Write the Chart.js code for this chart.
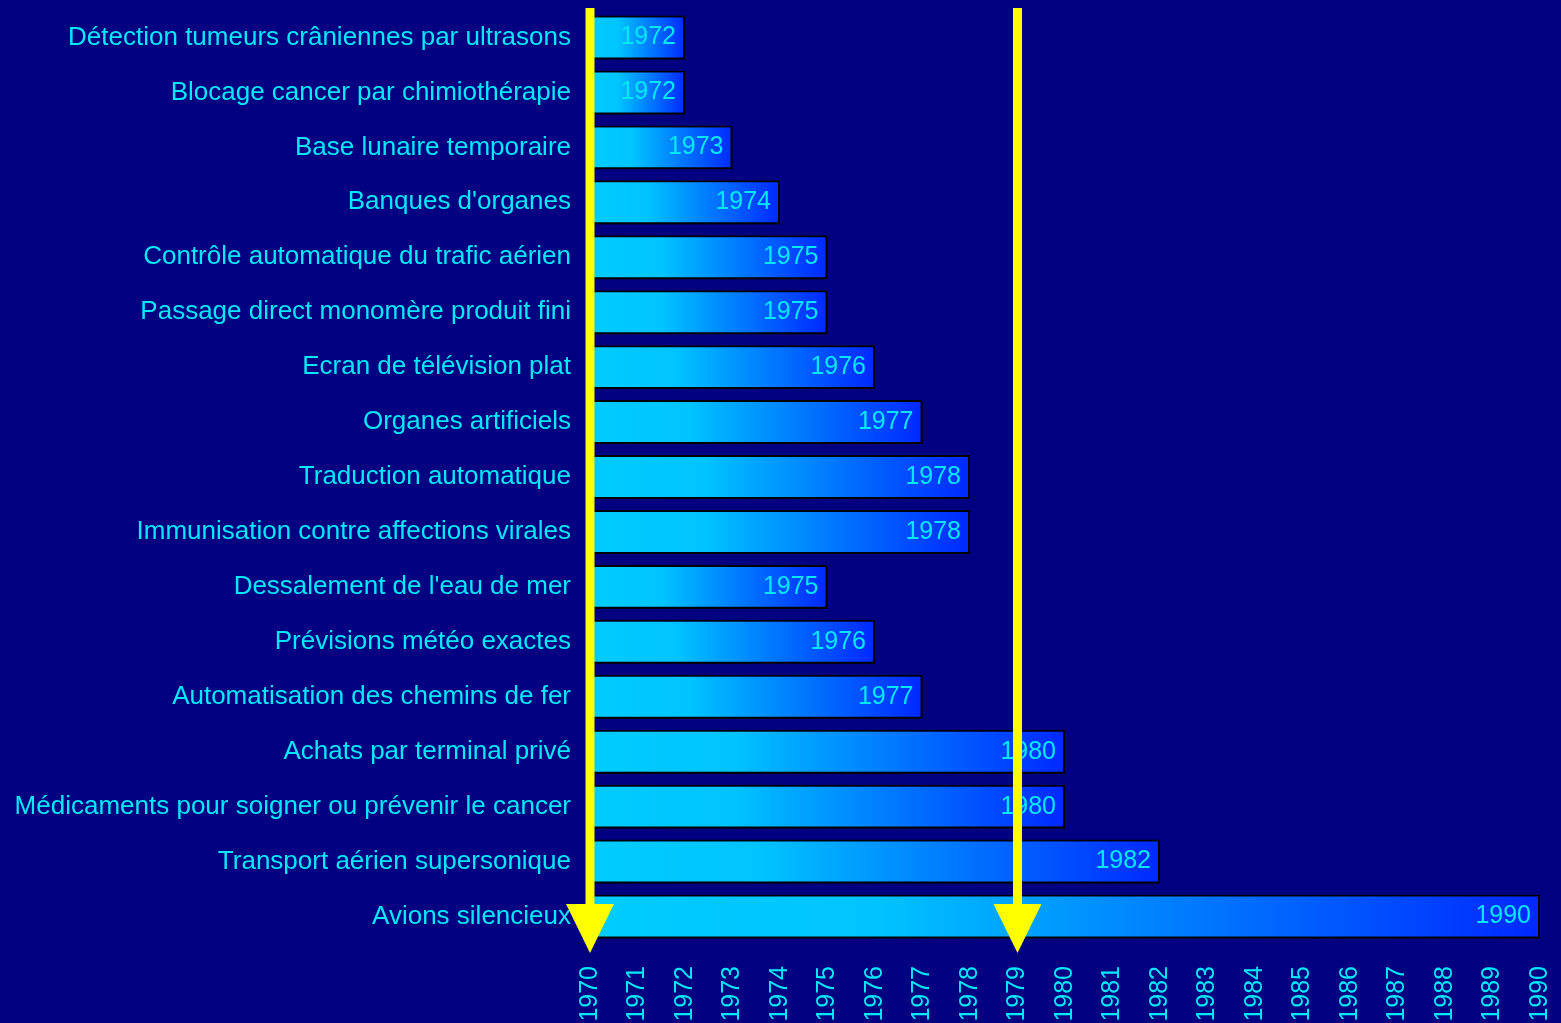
<!DOCTYPE html>
<html>
<head>
<meta charset="utf-8">
<script src="https://cdn.jsdelivr.net/npm/chart.js@4"></script>
<style>
  html, body { margin: 0; padding: 0; background: #000080; }
  #wrap { width: 1561px; height: 1023px; }
</style>
</head>
<body>
<div id="wrap"><canvas id="graf"></canvas></div>
<script>
// Donnees
const categories = [
  'Détection tumeurs crâniennes par ultrasons',
  'Blocage cancer par chimiothérapie',
  'Base lunaire temporaire',
  "Banques d'organes",
  'Contrôle automatique du trafic aérien',
  'Passage direct monomère produit fini',
  'Ecran de télévision plat',
  'Organes artificiels',
  'Traduction automatique',
  'Immunisation contre affections virales',
  "Dessalement de l'eau de mer",
  'Prévisions météo exactes',
  'Automatisation des chemins de fer',
  'Achats par terminal privé',
  'Médicaments pour soigner ou prévenir le cancer',
  'Transport aérien supersonique',
  'Avions silencieux'
];
const annees = [1972, 1972, 1973, 1974, 1975, 1975, 1976, 1977, 1978, 1978, 1975, 1976, 1977, 1980, 1980, 1982, 1990];
const anneeDebut = 1970;
const anneeFin = 1990;
const fleches = [1970, 1979];

const cyan = '#00e8fa';
const police = 'Liberation Sans, Arial, sans-serif';

// degrade par barre
function degrade(ctx) {
  const chart = ctx.chart;
  const x = chart.scales.x;
  if (!chart.chartArea || !x) return '#00c8ff';
  const x0 = x.getPixelForValue(anneeDebut);
  const x1 = x.getPixelForValue(annees[ctx.dataIndex]);
  const g = chart.ctx.createLinearGradient(x0, 0, x1, 0);
  g.addColorStop(0, '#00ccff');
  g.addColorStop(0.3, '#00c4ff');
  g.addColorStop(1, '#0028ff');
  return g;
}

// ombre des barres
const ombre = {
  id: 'ombre',
  beforeDatasetDraw(chart) {
    const c = chart.ctx;
    c.save();
    c.shadowColor = '#000000';
    c.shadowOffsetX = 2;
    c.shadowOffsetY = 2;
    c.shadowBlur = 0;
  },
  afterDatasetDraw(chart) {
    chart.ctx.restore();
  }
};

// valeurs dans les barres
const etiquettes = {
  id: 'etiquettes',
  afterDatasetsDraw(chart) {
    const c = chart.ctx;
    const meta = chart.getDatasetMeta(0);
    c.save();
    c.font = '25px ' + police;
    c.fillStyle = cyan;
    c.textAlign = 'right';
    c.textBaseline = 'middle';
    meta.data.forEach((bar, i) => {
      c.fillText(String(annees[i]), bar.x - 9, bar.y);
    });
    c.restore();
  }
};

// fleches jaunes
const flechesJaunes = {
  id: 'fleches',
  afterDraw(chart) {
    const c = chart.ctx;
    const x = chart.scales.x;
    const a = chart.chartArea;
    c.save();
    c.fillStyle = '#ffff00';
    fleches.forEach(v => {
      const px = x.getPixelForValue(v);
      c.fillRect(px - 4.5, a.top - 2, 9, a.bottom - a.top - 30);
      c.beginPath();
      c.moveTo(px - 24, a.bottom - 40);
      c.lineTo(px + 24, a.bottom - 40);
      c.lineTo(px, a.bottom + 9);
      c.closePath();
      c.fill();
    });
    c.restore();
  }
};

const fond = {
  id: 'fond',
  beforeDraw(chart) {
    const c = chart.ctx;
    c.save();
    c.fillStyle = '#000080';
    c.fillRect(0, 0, chart.width, chart.height);
    c.restore();
  }
};

function sansMarges(s) {
  s.paddingTop = 0;
  s.paddingBottom = 0;
  s.paddingLeft = 0;
  s.paddingRight = 0;
}

const graf = new Chart(document.getElementById('graf'), {
  type: 'bar',
  data: {
    labels: categories,
    datasets: [{
      data: annees.map(v => [anneeDebut, v]),
      backgroundColor: degrade,
      borderColor: '#000000',
      borderWidth: 2,
      borderSkipped: false,
      categoryPercentage: 1,
      barPercentage: 0.8
    }]
  },
  options: {
    indexAxis: 'y',
    responsive: true,
    maintainAspectRatio: false,
    animation: false,
    layout: { padding: { top: 10, right: 21, bottom: 0, left: 0 } },
    plugins: { legend: { display: false }, tooltip: { enabled: false } },
    scales: {
      x: {
        min: anneeDebut,
        max: anneeFin,
        grid: { display: false },
        border: { display: false },
        ticks: {
          stepSize: 1,
          autoSkip: false,
          minRotation: 90,
          maxRotation: 90,
          padding: 14,
          color: cyan,
          font: { family: police, size: 25 },
          callback: v => String(v)
        },
        afterFit(s) { s.height = 79; sansMarges(s); }
      },
      y: {
        grid: { display: false },
        border: { display: false },
        ticks: {
          padding: 11,
          color: cyan,
          font: { family: police, size: 26 }
        },
        afterFit(s) { s.width = 590; sansMarges(s); }
      }
    }
  },
  plugins: [fond, ombre, etiquettes, flechesJaunes]
});
graf.update();
</script>
</body>
</html>
